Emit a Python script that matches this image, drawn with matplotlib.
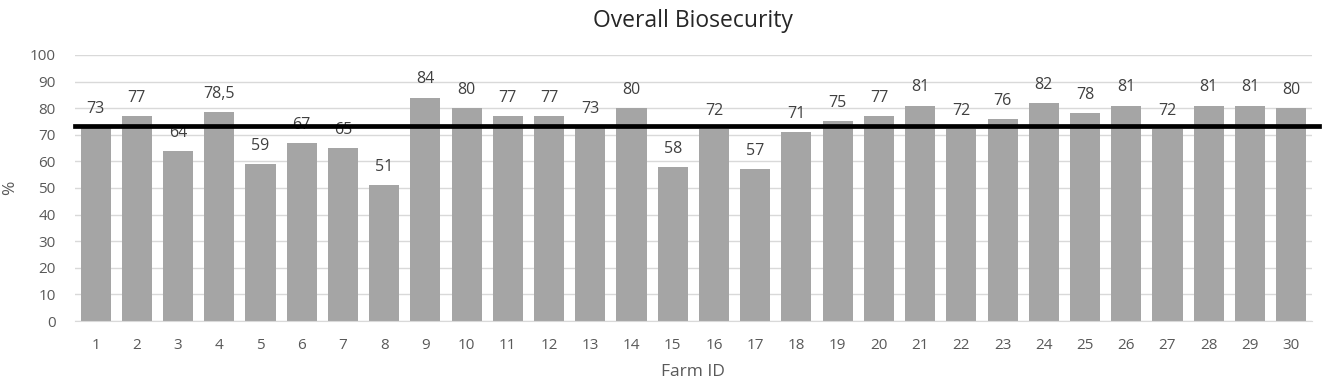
import matplotlib
matplotlib.use("Agg")
import matplotlib.pyplot as plt

# farm ids and overall biosecurity score (%)
farms = list(range(1, 31))
scores = [73, 77, 64, 78.5, 59, 67, 65, 51, 84, 80,
          77, 77, 73, 80, 58, 72, 57, 71, 75, 77,
          81, 72, 76, 82, 78, 81, 72, 81, 81, 80]
labels = ["73", "77", "64", "78,5", "59", "67", "65", "51", "84", "80",
          "77", "77", "73", "80", "58", "72", "57", "71", "75", "77",
          "81", "72", "76", "82", "78", "81", "72", "81", "81", "80"]
mean_score = sum(scores) / len(scores)

plt.rcParams['font.family'] = ['Open Sans', 'DejaVu Sans']
txt = '#595959'

fig = plt.figure(figsize=(13.25, 3.87), dpi=100)
ax = fig.add_axes([0.0566, 0.1705, 0.9334, 0.6875])

ax.bar(farms, scores, width=0.73, color='#a5a5a5', zorder=2)
for f, s, lab in zip(farms, scores, labels):
    ax.annotate(lab, (f, s), xytext=(0, 13), textcoords='offset points',
                ha='center', va='center', fontsize=11.5, color='#404040')

# mean line, runs a bit past the plot area on the right
ax.axhline(mean_score, xmin=0.0, xmax=1.006, color='black', lw=3.4,
           zorder=3, clip_on=False)

ax.set_xlim(0.5, 30.5)
ax.set_ylim(0, 100)
ax.set_yticks(range(0, 101, 10))
ax.set_xticks(farms)
ax.grid(axis='y', color='#d9d9d9', lw=1, zorder=0)
for sp in ['top', 'right', 'left']:
    ax.spines[sp].set_visible(False)
ax.spines['bottom'].set_color('#d9d9d9')
ax.tick_params(length=0, labelsize=11, colors=txt)
ax.tick_params(axis='x', pad=12)
ax.tick_params(axis='y', pad=14)

ax.set_xlabel('Farm ID', fontsize=12.5, color=txt, labelpad=8)
ax.set_ylabel('%', fontsize=12.5, color=txt, labelpad=8)
ax.set_title('Overall Biosecurity', fontsize=16.5, color='#262626', pad=20)

fig.savefig('out.png', dpi=100)
